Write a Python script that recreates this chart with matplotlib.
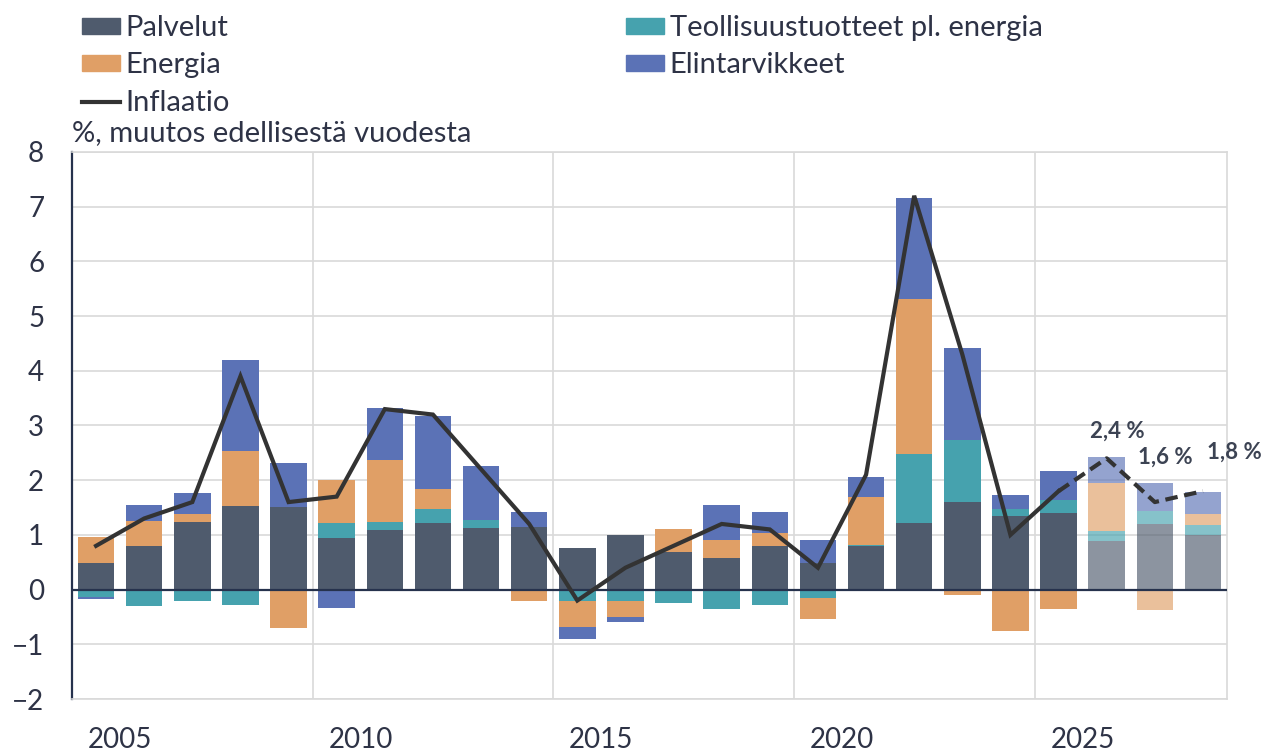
import numpy as np
import matplotlib
matplotlib.use("Agg")
import matplotlib.pyplot as plt
from matplotlib.patches import Patch
from matplotlib.lines import Line2D

plt.rcParams['font.family'] = ['Lato', 'DejaVu Sans']

# ---------- data (% change from previous year, contributions) ----------
years = list(range(2005, 2029))
first_forecast = 2026

palvelut = [0.48, 0.80, 1.23, 1.52, 1.51, 0.95, 1.09, 1.21, 1.13, 1.15, 0.76, 0.99,
            0.69, 0.58, 0.79, 0.49, 0.79, 1.21, 1.61, 1.34, 1.40, 0.88, 1.20, 1.00]
teollisuus = [-0.13, -0.30, -0.20, -0.29, 0.00, 0.26, 0.15, 0.27, 0.14, -0.02, -0.20, -0.21,
              -0.25, -0.36, -0.28, -0.15, 0.03, 1.26, 1.12, 0.13, 0.24, 0.19, 0.23, 0.19]
energia = [0.48, 0.45, 0.15, 1.02, -0.70, 0.79, 1.13, 0.36, 0.00, -0.18, -0.48, -0.29,
           0.42, 0.32, 0.24, -0.38, 0.88, 2.84, -0.09, -0.75, -0.36, 0.88, -0.38, 0.20]
elintarvikkeet = [-0.05, 0.30, 0.39, 1.66, 0.81, -0.33, 0.95, 1.33, 0.99, 0.26, -0.22, -0.09,
                  0.00, 0.65, 0.39, 0.42, 0.36, 1.85, 1.68, 0.26, 0.52, 0.47, 0.52, 0.39]
inflaatio = [0.8, 1.3, 1.6, 3.9, 1.6, 1.7, 3.3, 3.2, 2.2, 1.2, -0.2, 0.4,
             0.8, 1.2, 1.1, 0.4, 2.1, 7.2, 4.3, 1.0, 1.8, 2.4, 1.6, 1.8]

series = [
    ("Palvelut", palvelut, "#4f5b6d"),
    ("Teollisuustuotteet pl. energia", teollisuus, "#46a2ae"),
    ("Energia", energia, "#e09f66"),
    ("Elintarvikkeet", elintarvikkeet, "#5b72b6"),
]

text_col = "#2e3346"

# ---------- plot ----------
fig = plt.figure(figsize=(12.63, 7.53), dpi=100)
ax = fig.add_axes([72 / 1263, 1 - 699 / 753, (1227 - 72) / 1263, (699 - 152) / 753])

x = np.array(years)
forecast = x >= first_forecast
pos_bottom = np.zeros(len(x))
neg_bottom = np.zeros(len(x))

for name, vals, col in series:
    v = np.array(vals)
    bottom = np.where(v >= 0, pos_bottom, neg_bottom)
    alphas = np.where(forecast, 0.65, 1.0)
    for xi, vi, bi, a in zip(x, v, bottom, alphas):
        ax.bar(xi, vi, bottom=bi, width=0.76, color=col, alpha=a, linewidth=0, zorder=2)
    pos_bottom += np.where(v > 0, v, 0)
    neg_bottom += np.where(v < 0, v, 0)

ax.axhline(0, color="#26324d", lw=1.6, zorder=3)

# inflation line: solid for history, dashed for forecast
last_hist = years.index(first_forecast) - 1
ax.plot(x[:last_hist + 1], inflaatio[:last_hist + 1], color="#333333", lw=3, zorder=4,
        solid_joinstyle="miter")
ax.plot(x[last_hist:], inflaatio[last_hist:], color="#333333", lw=3, ls=(0, (3, 1.6)),
        zorder=4)

offsets = [(11, 27), (10, 45), (31, 39)]
for i, (dx, dy) in zip(range(last_hist + 1, len(x)), offsets):
    lab = f"{inflaatio[i]:.1f} %".replace(".", ",")
    ax.annotate(lab, (x[i], inflaatio[i]), xytext=(dx, dy), textcoords="offset pixels",
                ha="center", va="center", fontsize=16, fontweight="bold", color="#3c4353")

# axes
ax.set_xlim(2004.5, 2028.5)
ax.set_ylim(-2, 8)
ax.set_yticks(range(-2, 9))
ax.set_yticklabels([str(t).replace("-", "\u2212") for t in range(-2, 9)])
ax.set_xticks([2009.5, 2014.5, 2019.5, 2024.5])
ax.set_xticklabels([])
ax.set_xticks([2005.5, 2010.5, 2015.5, 2020.5, 2025.5], minor=True)
ax.set_xticklabels(["2005", "2010", "2015", "2020", "2025"], minor=True)
ax.tick_params(axis="x", which="both", length=0, pad=20, labelsize=20, colors=text_col)
ax.tick_params(axis="y", length=0, pad=20, labelsize=20, colors=text_col)
ax.grid(True, which="major", color="#d9d9d9", lw=1.2, zorder=0)
ax.set_axisbelow(True)
for s in ["top", "right", "bottom"]:
    ax.spines[s].set_color("#d9d9d9")
    ax.spines[s].set_linewidth(1.2)
ax.spines["left"].set_color("#26324d")
ax.spines["left"].set_linewidth(1.6)

# legend
h1 = [Patch(color=series[0][2], label=series[0][0]),
      Patch(color=series[2][2], label=series[2][0]),
      Line2D([], [], color="#333333", lw=3, label="Inflaatio")]
h2 = [Patch(color=series[1][2], label=series[1][0]),
      Patch(color=series[3][2], label=series[3][0])]
leg_kw = dict(loc="upper left", frameon=False, fontsize=21, handlelength=1.3, handleheight=0.48,
              handletextpad=0.2, labelspacing=0.39, borderpad=0, borderaxespad=0,
              labelcolor=text_col)
fig.legend(handles=h1, bbox_to_anchor=(82 / 1263, 1 - 15 / 753), **leg_kw)
fig.legend(handles=h2, bbox_to_anchor=(626 / 1263, 1 - 15 / 753), **leg_kw)

fig.text(72 / 1263, 1 - 133 / 753, "%, muutos edellisestä vuodesta", fontsize=21,
         color=text_col, ha="left", va="center")

fig.savefig("out.png", dpi=100, facecolor="white")
